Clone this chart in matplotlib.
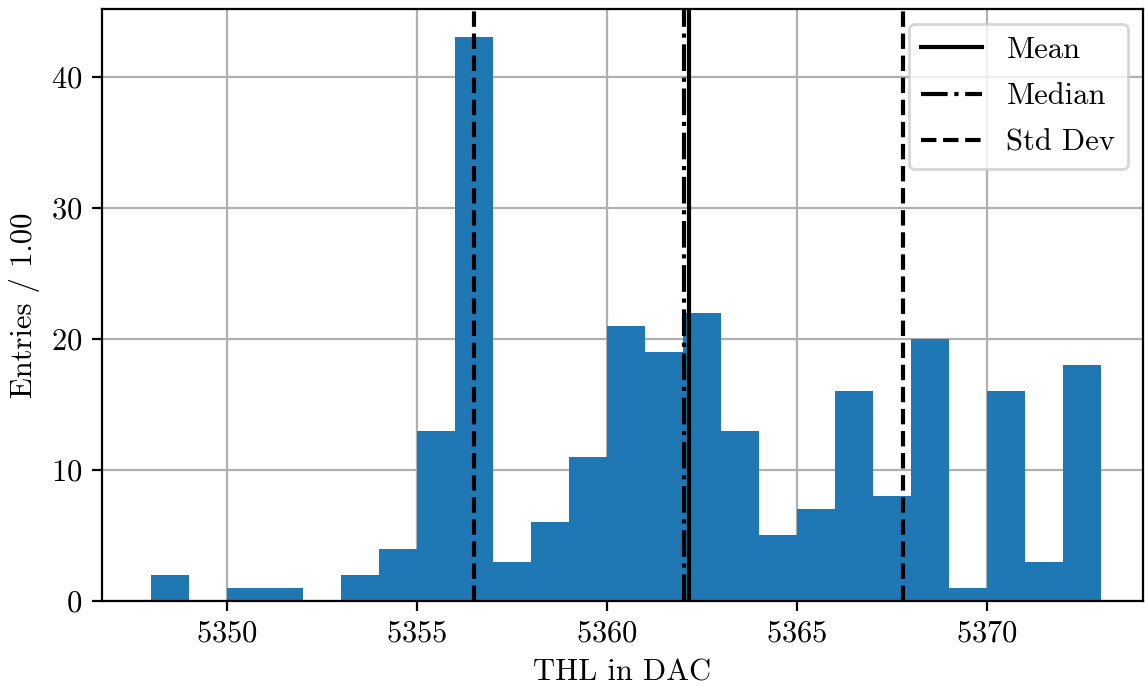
import matplotlib
matplotlib.use("Agg")
import matplotlib.pyplot as plt
import numpy as np

plt.rcParams['font.family'] = 'serif'
plt.rcParams['font.serif'] = ['cmr10']
plt.rcParams['mathtext.fontset'] = 'cm'
plt.rcParams['axes.formatter.use_mathtext'] = True
plt.rcParams['font.size'] = 11

bin_edges = list(range(5348, 5374))
counts = [2, 0, 1, 1, 0, 2, 4, 13, 43, 3, 6, 11, 21, 19, 22, 13, 5, 7, 16, 8, 20, 1, 16, 3, 18]
mean_val = 5362.15
median_val = 5362.02
std_val = 5.64

fig = plt.figure(figsize=(1145/200, 686/200), dpi=200)
ax = fig.add_axes([102/1145, 1-601/686, (1143-102)/1145, (601-9)/686])
ax.hist(bin_edges[:-1], bins=bin_edges, weights=counts, color='#1f77b4', zorder=2)
ax.axvline(mean_val, color='black', ls='-', lw=1.5, label='Mean', zorder=3)
ax.axvline(median_val, color='black', ls='-.', lw=1.5, label='Median', zorder=3)
ax.axvline(mean_val - std_val, color='black', ls='--', lw=1.5, label='Std Dev', zorder=3)
ax.axvline(mean_val + std_val, color='black', ls='--', lw=1.5, zorder=3)
ax.grid(True, zorder=0)
ax.set_axisbelow(True)
ax.set_xlim(5346.71, 5374.1)
ax.set_ylim(0, 45.15)
ax.set_xlabel('THL in DAC')
ax.set_ylabel('Entries / 1.00')
ax.set_xticks([5350, 5355, 5360, 5365, 5370])
ax.set_yticks([0, 10, 20, 30, 40])
ax.legend(loc='upper right', labelspacing=0.62, handletextpad=0.8)
fig.savefig('out.png', dpi=200)
